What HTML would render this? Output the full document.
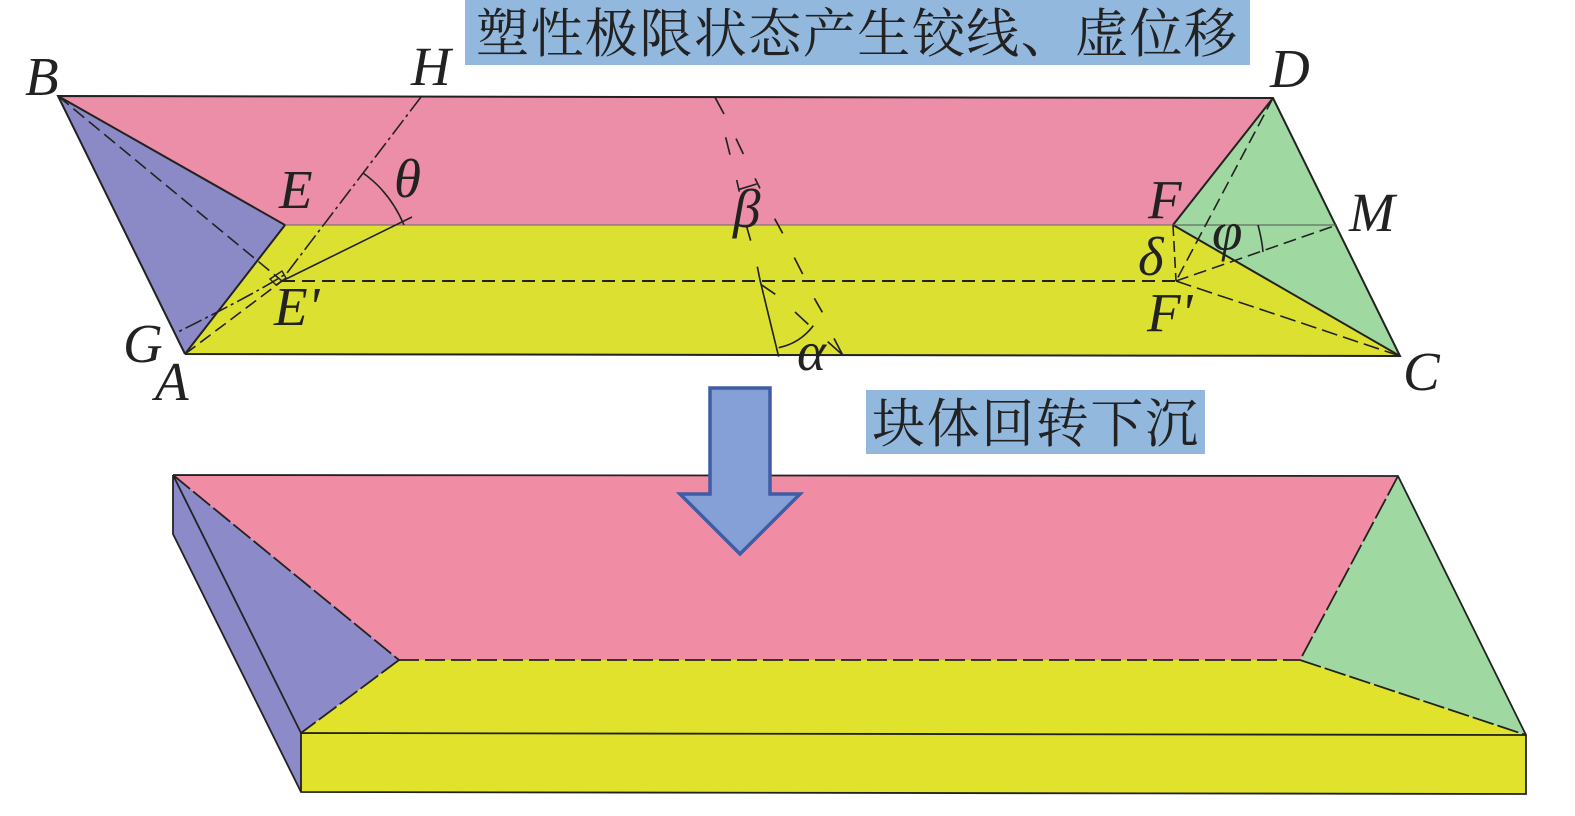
<!DOCTYPE html>
<html><head><meta charset="utf-8"><style>
html,body{margin:0;padding:0;background:#fff;width:1575px;height:816px;overflow:hidden}
svg{display:block}
.l{font-family:"Liberation Serif",serif;font-style:italic;font-size:55px;fill:#222}
.c{font-family:"Liberation Serif","Noto Serif CJK SC",serif;font-size:53px;fill:#222}
</style></head><body>
<svg width="1575" height="816" viewBox="0 0 1575 816" xmlns="http://www.w3.org/2000/svg">
<rect width="1575" height="816" fill="#fff"/>
<rect x="465" y="0" width="785" height="65" fill="#93B8DE"/>
<text class="c" x="476" y="52" textLength="761" lengthAdjust="spacing">塑性极限状态产生铰线、虚位移</text>
<rect x="866" y="390" width="339" height="64" fill="#93B8DE"/>
<text class="c" x="872" y="442" textLength="326" lengthAdjust="spacing">块体回转下沉</text>

<!-- top figure -->
<polygon points="58,96 1273,98 1173,225 285,225" fill="#ED8EA8"/>
<polygon points="285,225 1173,225 1400,356 185,354" fill="#DCE030"/>
<polygon points="58,96 285,225 185,354" fill="#8C8AC6"/>
<polygon points="1273,98 1400,356 1173,225" fill="#9FD8A0"/>
<g fill="none" stroke="#222" stroke-width="2">
<polyline points="185,354 58,96 1273,98 1400,356 185,354" stroke-width="2"/>
<polyline points="58,96 285,225 185,354"/>
<polyline points="1273,98 1173,225 1400,356"/>
<line x1="285" y1="225" x2="1173" y2="225" stroke="#666" stroke-width="1"/>
<line x1="1173" y1="225" x2="1337" y2="225" stroke="#555" stroke-width="1"/>
<line x1="58" y1="96" x2="282" y2="281" stroke-dasharray="14 6" stroke-width="1.6"/>
<line x1="282" y1="281" x2="1176" y2="281" stroke-dasharray="13 7"/>
<line x1="185" y1="354" x2="282" y2="281" stroke-dasharray="13 6" stroke-width="1.6"/>
<line x1="282" y1="281" x2="412" y2="217" stroke-width="1.6"/>
<path d="M421,97 L287,273 Q262,290 176,333" stroke-dasharray="18 4 3 4" stroke-width="1.6"/>
<path d="M363,173 Q390,192 404,225" stroke-width="1.6"/>
<polygon points="270,279 282,271 286,278 276,285" stroke-width="1.4"/>
<line x1="1273" y1="98" x2="1176" y2="281" stroke-dasharray="13 6" stroke-width="1.6"/>
<line x1="1173" y1="225" x2="1176" y2="281" stroke-dasharray="11 5" stroke-width="1.6"/>
<line x1="1176" y1="281" x2="1400" y2="356" stroke-dasharray="16 6" stroke-width="1.6"/>
<line x1="1176" y1="281" x2="1337" y2="225" stroke-dasharray="13 6" stroke-width="1.6"/>
<path d="M1258,225 Q1262,240 1263,252" stroke-width="1.6"/>
</g>
<g transform="translate(680,80) scale(.33333)" fill="none" stroke="#222" stroke-width="5">
<path d="M105,52L132,102M137,172L150,224M168,176L190,222M170,300L178,335M178,328L230,312M225,295L240,325M200,440L212,482M284,416L308,460M232,560L240,600L296,830M245,615L286,643M343,533L368,582M403,655L427,697M345,696L385,733M296,803Q360,790 400,737M443,785L488,825M462,775L488,825"/>
</g>
<text class="l" x="25" y="95">B</text>
<text class="l" x="411" y="85">H</text>
<text class="l" x="279" y="208">E</text>
<text class="l" x="274" y="325">E'</text>
<text class="l" x="123" y="362">G</text>
<text class="l" x="155" y="400">A</text>
<text class="l" x="394" y="197">θ</text>
<text class="l" x="1270" y="87">D</text>
<text class="l" x="1148" y="218">F</text>
<text class="l" x="1349" y="231">M</text>
<text class="l" x="1138" y="275">δ</text>
<text class="l" x="1212" y="250">φ</text>
<text class="l" x="1147" y="331">F'</text>
<text class="l" x="1403" y="390">C</text>
<text class="l" x="733" y="227">β</text>
<text class="l" x="797" y="370">α</text>

<!-- bottom figure -->
<polygon points="173,475 1398,476 1300,660 399,660" fill="#F08DA5"/>
<polygon points="399,660 1300,660 1526,735 1526,794 301,792 301,733" fill="#E0E22C"/>
<polygon points="173,475 399,660 301,733 301,792 173,534" fill="#8C8AC8"/>
<polygon points="1398,476 1526,735 1300,660" fill="#9FD8A0"/>
<g fill="none" stroke="#222" stroke-width="1.8">
<polyline points="173,475 1398,476 1526,735 1526,794 301,792 173,534 173,475"/>
<line x1="173" y1="475" x2="301" y2="733"/>
<polyline points="301,792 301,733 1526,735"/>
<line x1="173" y1="475" x2="399" y2="660" stroke-dasharray="22 4"/>
<line x1="399" y1="660" x2="301" y2="733" stroke-dasharray="22 4"/>
<line x1="399" y1="660" x2="1300" y2="660" stroke-dasharray="20 6"/>
<line x1="1398" y1="476" x2="1300" y2="660" stroke-dasharray="22 4"/>
<line x1="1300" y1="660" x2="1526" y2="735" stroke-dasharray="22 4"/>
</g>
<polygon points="710,388 770,388 770,494 800,494 740,554 680,494 710,494" fill="#85A0D6" stroke="#3F5CA5" stroke-width="3.5"/>
</svg>
</body></html>
